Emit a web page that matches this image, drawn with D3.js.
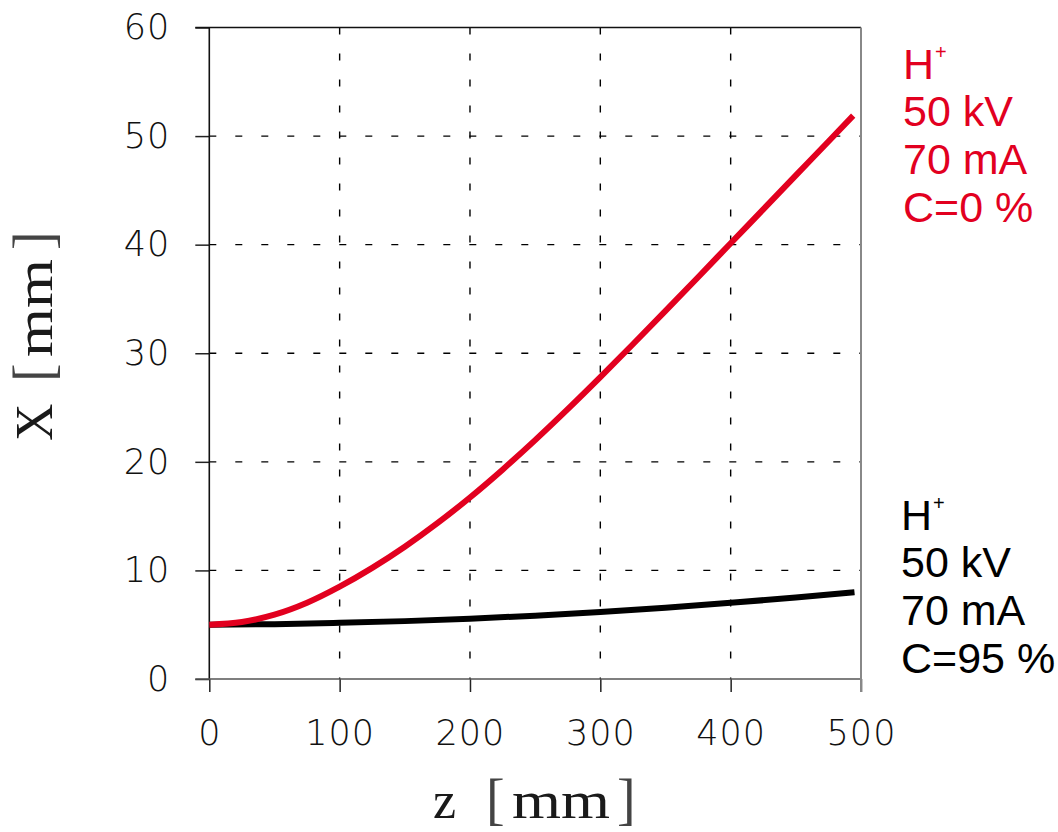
<!DOCTYPE html>
<html>
<head>
<meta charset="utf-8">
<script src="https://cdn.jsdelivr.net/npm/d3@7"></script>
<style>
  html, body { margin: 0; padding: 0; background: #fff; }
  svg { display: block; }
</style>
</head>
<body>
<svg id="chart" width="1058" height="832"></svg>
<script>
// Beam envelope X along the drift axis z, with and without space-charge compensation
const zRed   = [0, 25, 50, 75, 100, 125, 150, 175, 200, 225, 250, 275, 300, 325, 350, 375, 400, 425, 450, 475, 494];
const xRed   = [5.0, 5.25, 5.92, 7.02, 8.5, 10.23, 12.18, 14.35, 16.72, 19.28, 22.0, 24.85, 27.8, 30.83, 33.9, 37.0, 40.13, 43.25, 46.38, 49.5, 51.88];
const zBlack = [0, 50, 100, 150, 200, 250, 300, 350, 400, 450, 495];
const xBlack = [5.0, 5.05, 5.17, 5.33, 5.55, 5.83, 6.17, 6.57, 7.02, 7.5, 8.0];

const xTicks = [0, 100, 200, 300, 400, 500];
const yTicks = [0, 10, 20, 30, 40, 50, 60];

const labelRed   = ["50 kV", "70 mA", "C=0 %"];
const labelBlack = ["50 kV", "70 mA", "C=95 %"];

const RED = "#e2001f";

const svg = d3.select("#chart");
const plotL = 209.3, plotR = 861, plotT = 27.5, plotB = 679;

const x = d3.scaleLinear().domain([0, 500]).range([plotL, plotR]);
const y = d3.scaleLinear().domain([0, 60]).range([plotB, plotT]);

// dashed grid
const grid = svg.append("g")
  .attr("stroke", "#000")
  .attr("stroke-width", 1.4)
  .attr("stroke-dasharray", "7,19");
grid.selectAll("line.v")
  .data(xTicks.filter(d => d > 0 && d < 500))
  .join("line")
  .attr("class", "v")
  .attr("x1", d => x(d)).attr("x2", d => x(d))
  .attr("y1", y(60)).attr("y2", y(0));
grid.selectAll("line.h")
  .data(yTicks.filter(d => d > 0 && d < 60))
  .join("line")
  .attr("class", "h")
  .attr("x1", x(0)).attr("x2", x(500))
  .attr("y1", d => y(d)).attr("y2", d => y(d));

// axes built from d3 axis generators, then restyled
const tickFont = "'DejaVu Sans', sans-serif";

const gx = svg.append("g")
  .attr("transform", `translate(0,${plotB})`)
  .call(d3.axisBottom(x).tickValues(xTicks).tickSize(13).tickPadding(28).tickFormat(d3.format("d")));
gx.select(".domain").remove();
gx.selectAll(".tick line").attr("stroke", "#222").attr("stroke-width", 1.5);
gx.selectAll(".tick text")
  .attr("font-family", tickFont)
  .attr("font-weight", 200)
  .attr("font-size", 35)
  .attr("letter-spacing", 1)
  .attr("fill", "#111");

const gy = svg.append("g")
  .attr("transform", `translate(${plotL},0)`)
  .call(d3.axisLeft(y).tickValues(yTicks).tickSize(14).tickPadding(25).tickFormat(d3.format("d")));
gy.select(".domain").remove();
gy.selectAll(".tick line").attr("stroke", "#222").attr("stroke-width", 1.5);
gy.selectAll(".tick text")
  .attr("font-family", tickFont)
  .attr("font-weight", 200)
  .attr("font-size", 35)
  .attr("letter-spacing", 1)
  .attr("fill", "#111");

// frame
svg.append("line").attr("x1", plotL).attr("x2", plotL).attr("y1", plotT).attr("y2", plotB)
  .attr("stroke", "#111").attr("stroke-width", 1.6);
svg.append("line").attr("x1", plotL - 14).attr("x2", plotR).attr("y1", plotB).attr("y2", plotB)
  .attr("stroke", "#555").attr("stroke-width", 1.6);
svg.append("line").attr("x1", plotL - 14).attr("x2", plotR).attr("y1", plotT).attr("y2", plotT)
  .attr("stroke", "#111").attr("stroke-width", 1.6);
svg.append("line").attr("x1", plotR).attr("x2", plotR).attr("y1", plotT).attr("y2", plotB + 13)
  .attr("stroke", "#888").attr("stroke-width", 2);

// curves
const line = d3.line().x(d => x(d[0])).y(d => y(d[1])).curve(d3.curveMonotoneX);
svg.append("path")
  .datum(d3.zip(zBlack, xBlack))
  .attr("d", line)
  .attr("fill", "none").attr("stroke", "#000").attr("stroke-width", 6);
svg.append("path")
  .datum(d3.zip(zRed, xRed))
  .attr("d", line)
  .attr("fill", "none").attr("stroke", RED).attr("stroke-width", 6);

// axis titles: symbol, then unit in tall brackets
const serif = "'Liberation Serif', 'DejaVu Serif', serif";
function axisTitle(g, sym, symAt, openAt, unitAt, unitLen, closeAt) {
  g.attr("font-family", serif).attr("fill", "#1a1a1a");
  g.append("text").attr("x", symAt).attr("font-size", 52).text(sym);
  g.append("text").attr("x", openAt).attr("font-size", 56).attr("fill", "#444").text("[");
  g.append("text").attr("x", unitAt).attr("font-size", 52)
    .attr("textLength", unitLen).attr("lengthAdjust", "spacingAndGlyphs").text("mm");
  g.append("text").attr("x", closeAt).attr("font-size", 56).attr("fill", "#444").text("]");
}
axisTitle(svg.append("g").attr("transform", "translate(0,818)"),
  "z", 433, 486, 512, 98, 617);
axisTitle(svg.append("g").attr("transform", "translate(52,0) rotate(-90)"),
  "X", -441, -382, -357, 98, -250);

// side annotations
function annotate(x0, y0, color, lines) {
  const g = svg.append("g")
    .attr("font-family", "'Liberation Sans', Arial, sans-serif")
    .attr("font-size", 43)
    .attr("fill", color);
  const h = g.append("text").attr("x", x0).attr("y", y0);
  h.append("tspan").text("H");
  h.append("tspan").attr("font-size", 20).attr("dy", -20).attr("dx", 1).text("+");
  g.selectAll("text.l")
    .data(lines)
    .join("text")
    .attr("class", "l")
    .attr("x", x0)
    .attr("y", (d, i) => y0 + 47.7 * (i + 1))
    .text(d => d);
}
annotate(903, 78.5, RED, labelRed);
annotate(901, 529.5, "#000", labelBlack);
</script>
</body>
</html>
